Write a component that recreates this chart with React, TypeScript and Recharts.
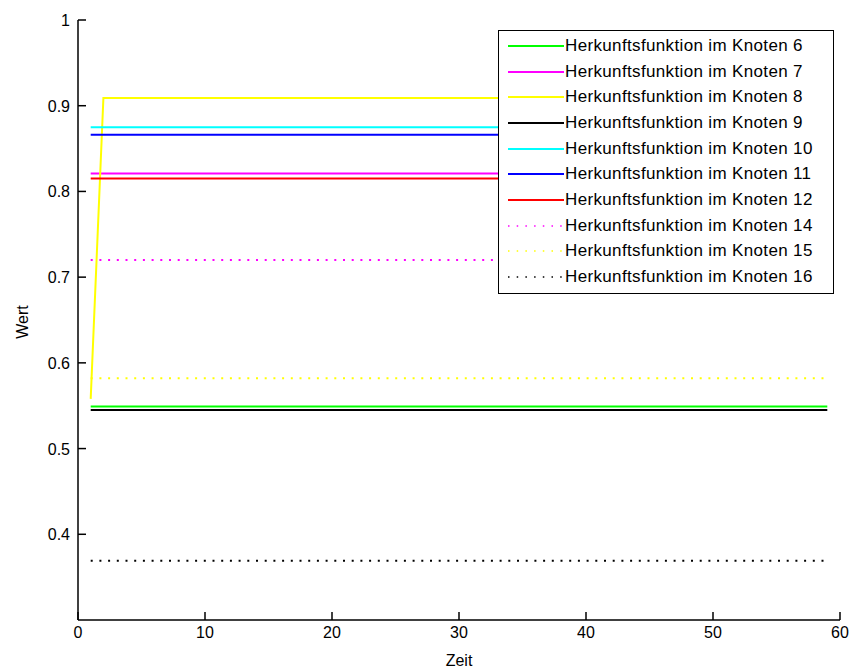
import { LineChart, Line, XAxis, YAxis, Legend } from "recharts";

// time points (Zeit)
const zeit = [1, 2, 59];

// values per node (Wert)
const knoten6 = [0.549, 0.549, 0.549];
const knoten7 = [0.821, 0.821, 0.821];
const knoten8 = [0.558, 0.909, 0.909];
const knoten9 = [0.545, 0.545, 0.545];
const knoten10 = [0.875, 0.875, 0.875];
const knoten11 = [0.866, 0.866, 0.866];
const knoten12 = [0.815, 0.815, 0.815];
const knoten14 = [0.72, 0.72, 0.72];
const knoten15 = [0.582, 0.582, 0.582];
const knoten16 = [0.369, 0.369, 0.369];

const xTicks = [0, 10, 20, 30, 40, 50, 60];
const yTicks = [0.4, 0.5, 0.6, 0.7, 0.8, 0.9, 1];

const series = [
  { key: "k6", name: "Herkunftsfunktion im Knoten 6", values: knoten6, color: "#00ff00", dotted: false },
  { key: "k7", name: "Herkunftsfunktion im Knoten 7", values: knoten7, color: "#ff00ff", dotted: false },
  { key: "k8", name: "Herkunftsfunktion im Knoten 8", values: knoten8, color: "#ffff00", dotted: false },
  { key: "k9", name: "Herkunftsfunktion im Knoten 9", values: knoten9, color: "#000000", dotted: false },
  { key: "k10", name: "Herkunftsfunktion im Knoten 10", values: knoten10, color: "#00ffff", dotted: false },
  { key: "k11", name: "Herkunftsfunktion im Knoten 11", values: knoten11, color: "#0000ff", dotted: false },
  { key: "k12", name: "Herkunftsfunktion im Knoten 12", values: knoten12, color: "#ff0000", dotted: false },
  { key: "k14", name: "Herkunftsfunktion im Knoten 14", values: knoten14, color: "#ff00ff", dotted: true },
  { key: "k15", name: "Herkunftsfunktion im Knoten 15", values: knoten15, color: "#ffff00", dotted: true },
  { key: "k16", name: "Herkunftsfunktion im Knoten 16", values: knoten16, color: "#000000", dotted: true },
];

const data = zeit.map((t, i) => {
  const row: Record<string, number> = { t };
  series.forEach((s) => {
    row[s.key] = s.values[i];
  });
  return row;
});

const FONT = '"Liberation Sans", Arial, sans-serif';

function XTick(props: any) {
  const { x, y, payload } = props;
  return (
    <g>
      <line x1={x} x2={x} y1={y} y2={y - 8} stroke="#000" strokeWidth={1.5} />
      <text x={x} y={y + 18} textAnchor="middle" fontSize={16} fontFamily={FONT} fill="#000">
        {payload.value}
      </text>
    </g>
  );
}

function YTick(props: any) {
  const { x, y, payload } = props;
  const v = payload.value;
  return (
    <g>
      <line x1={x} x2={x + 8} y1={y} y2={y} stroke="#000" strokeWidth={1.5} />
      <text x={x - 8} y={y + 6} textAnchor="end" fontSize={16} fontFamily={FONT} fill="#000">
        {v === 1 ? "1" : v.toFixed(1)}
      </text>
    </g>
  );
}

function LegendBox() {
  return (
    <div
      style={{
        width: 336,
        height: 264,
        boxSizing: "border-box",
        border: "1px solid #000",
        background: "#fff",
        paddingTop: 2,
        fontFamily: FONT,
        fontSize: 17,
      }}
    >
      {series.map((s) => (
        <div key={s.key} style={{ display: "flex", alignItems: "center", height: 25.7 }}>
          <svg width={56} height={10} style={{ marginLeft: 9 }}>
            <line
              x1={0}
              x2={56}
              y1={5}
              y2={5}
              stroke={s.color}
              strokeWidth={s.dotted ? 1.5 : 2}
              strokeDasharray={s.dotted ? "1.5 7.2" : undefined}
            />
          </svg>
          <span style={{ marginLeft: 1, whiteSpace: "nowrap", color: "#000", letterSpacing: 0.35 }}>
            {s.name}
          </span>
        </div>
      ))}
    </div>
  );
}

export default function App() {
  return (
    <div style={{ position: "absolute", left: 0, top: 0, background: "#fff" }}>
      <LineChart
        width={851}
        height={668}
        data={data}
        margin={{ top: 20, right: 11, bottom: 47, left: 77 }}
      >
        <XAxis
          dataKey="t"
          type="number"
          domain={[0, 60]}
          ticks={xTicks}
          height={1}
          tickSize={0}
          tickMargin={0}
          tickLine={false}
          axisLine={{ stroke: "#000", strokeWidth: 1.5 }}
          tick={<XTick />}
          interval={0}
          label={(p: any) => {
            const vb = p.viewBox || {};
            return (
              <text
                x={vb.x + vb.width / 2}
                y={666}
                textAnchor="middle"
                fontSize={16}
                fontFamily={FONT}
                fill="#000"
              >
                Zeit
              </text>
            );
          }}
        />
        <YAxis
          type="number"
          domain={[0.3, 1]}
          ticks={yTicks}
          width={1}
          tickSize={0}
          tickMargin={0}
          tickLine={false}
          axisLine={{ stroke: "#000", strokeWidth: 1.5 }}
          tick={<YTick />}
          interval={0}
          label={() => (
            <text
              x={28}
              y={322}
              transform="rotate(-90 28 322)"
              textAnchor="middle"
              fontSize={16}
              fontFamily={FONT}
              fill="#000"
            >
              Wert
            </text>
          )}
        />
        {series.map((s) => (
          <Line
            key={s.key}
            dataKey={s.key}
            name={s.name}
            type="linear"
            stroke={s.color}
            strokeWidth={2}
            strokeDasharray={s.dotted ? "2 6.7" : undefined}
            dot={false}
            activeDot={false}
            isAnimationActive={false}
          />
        ))}
        <Legend
          layout="vertical"
          align="center"
          verticalAlign="middle"
          wrapperStyle={{ left: 498, top: 30, width: 336, height: 264 }}
          content={() => <LegendBox />}
        />
      </LineChart>
    </div>
  );
}
